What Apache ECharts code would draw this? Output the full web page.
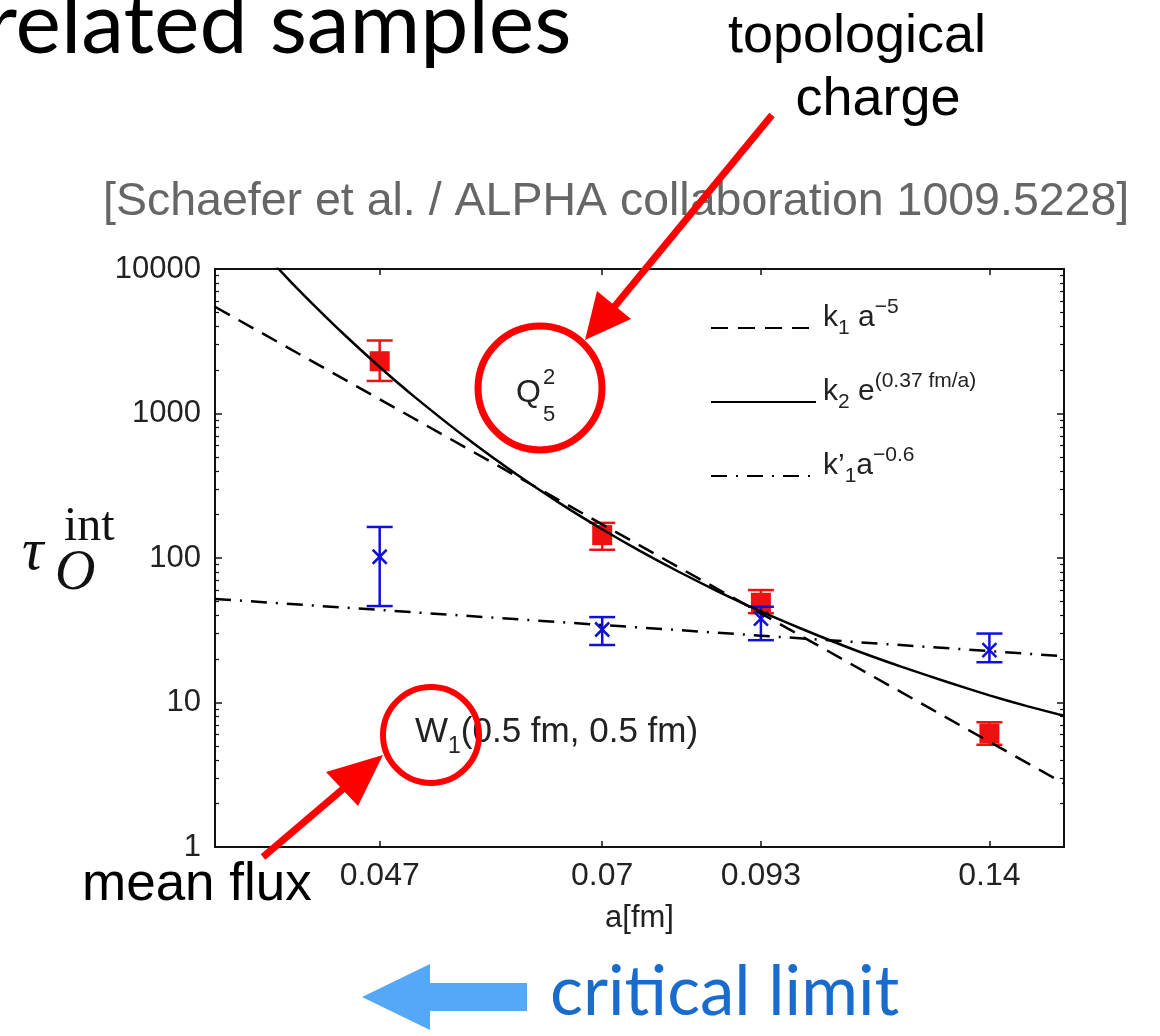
<!DOCTYPE html>
<html>
<head>
<meta charset="utf-8">
<title>tau int vs a</title>
<script src="https://cdn.jsdelivr.net/npm/echarts@6.0.0/dist/echarts.min.js"></script>
<style>
  html, body { margin: 0; padding: 0; background: #fff; }
  #chart { width: 1160px; height: 1036px; }
</style>
</head>
<body>
<div id="chart"></div>
<script>
// 格距 a[fm]，x 轴刻度
const aValues = [0.047, 0.07, 0.093, 0.14]
const xTicks = [0.047, 0.07, 0.093, 0.14]
// y 轴次刻度 (对数)
const yMinorTicks = [2, 3, 4, 5, 6, 7, 8, 9, 20, 30, 40, 50, 60, 70, 80, 90,
  200, 300, 400, 500, 600, 700, 800, 900, 2000, 3000, 4000, 5000, 6000, 7000, 8000, 9000]

// Q_5^2 拓扑荷 (红色方块)
const q5Value = [2300, 144, 49, 6.1]
const q5Low = [1680, 114, 41.5, 5.1]
const q5High = [3200, 175, 60, 7.3]

// W_1 平均通量 (蓝色叉)
const w1Value = [102, 32, 38, 23]
const w1Low = [46.5, 25, 27, 19]
const w1High = [164, 39, 46, 30]

// 拟合曲线，从图上读出的点
const k1A = [0.035, 0.047, 0.07, 0.093, 0.14, 0.16]
const k1Values = [5480, 1255, 171, 41.4, 5.35, 2.75]
const k2A = [0.038, 0.040, 0.042, 0.044, 0.047, 0.050, 0.055, 0.060, 0.065, 0.070,
  0.075, 0.080, 0.086, 0.093, 0.100, 0.110, 0.120, 0.130, 0.140, 0.150, 0.160]
const k2Values = [13540, 8324, 5366, 3593, 2099, 1309, 668, 381, 237, 158,
  111, 81.6, 59.1, 42.7, 32.4, 23.1, 17.5, 13.8, 11.2, 9.4, 8.1]
const k1pA = [0.035, 0.047, 0.07, 0.093, 0.14, 0.16]
const k1pValues = [52.1, 43.7, 34.4, 29.0, 22.7, 20.9]

const SANS = 'Liberation Sans'
const SERIF = 'Liberation Serif'
const AXIS_COLOR = '#111'
const CLEAR = 'rgba(0,0,0,0)'

const chart = echarts.init(document.getElementById('chart'))

// 误差棒 + 标记
function errorBars(color, mark) {
  return function (params, api) {
    const a = api.value(0)
    const mid = api.coord([a, api.value(1)])
    const lo = api.coord([a, api.value(2)])
    const hi = api.coord([a, api.value(3)])
    const cap = 13
    const line = (x1, y1, x2, y2) => ({
      type: 'line',
      shape: { x1, y1, x2, y2 },
      style: { stroke: color, lineWidth: 2.5 },
    })
    const children = [
      line(mid[0], lo[1], mid[0], hi[1]),
      line(mid[0] - cap, lo[1], mid[0] + cap, lo[1]),
      line(mid[0] - cap, hi[1], mid[0] + cap, hi[1]),
    ]
    if (mark === 'square') {
      children.push({
        type: 'rect',
        shape: { x: mid[0] - 10, y: mid[1] - 10, width: 20, height: 20 },
        style: { fill: color },
      })
    } else {
      children.push(line(mid[0] - 7, mid[1] - 7, mid[0] + 7, mid[1] + 7))
      children.push(line(mid[0] - 7, mid[1] + 7, mid[0] + 7, mid[1] - 7))
    }
    return { type: 'group', children }
  }
}

const legendText = {
  'k1 a^-5': '{m|k}{sub|1}{m| a}{sup|\u22125}',
  'k2 exp': '{m|k}{sub|2}{m| e}{sup|(0.37 fm/a)}',
  'k1p a^-0.6': '{m|k\u2019}{sub|1}{m|a}{sup|\u22120.6}',
}

const logX = {
  type: 'log',
  min: 0.035,
  max: 0.16,
  splitLine: { show: false },
  axisLine: { lineStyle: { color: AXIS_COLOR, width: 2 } },
  axisTick: { inside: true, length: 6, customValues: xTicks, lineStyle: { color: AXIS_COLOR, width: 1.5 } },
}
const logY = {
  type: 'log',
  min: 1,
  max: 10000,
  splitLine: { show: false },
  axisLine: { lineStyle: { color: AXIS_COLOR, width: 2 } },
  axisTick: { inside: true, length: 7, lineStyle: { color: AXIS_COLOR, width: 1.5 } },
}
const minorY = {
  type: 'log',
  min: 1,
  max: 10000,
  splitLine: { show: false },
  axisLine: { show: false },
  axisLabel: { show: false },
  axisTick: { inside: true, length: 4, customValues: yMinorTicks, lineStyle: { color: AXIS_COLOR, width: 1.2 } },
}

chart.setOption({
  animation: false,
  backgroundColor: '#fff',
  grid: { left: 215, top: 269, width: 849, height: 578, outerBoundsMode: 'none' },
  legend: {
    data: ['k1 a^-5', 'k2 exp', 'k1p a^-0.6'],
    orient: 'vertical',
    left: 705,
    top: 292,
    itemWidth: 105,
    itemHeight: 14,
    itemGap: 32,
    formatter: name => legendText[name],
    itemStyle: { color: CLEAR, borderColor: CLEAR, borderWidth: 0 },
    textStyle: {
      fontFamily: SANS,
      fontSize: 30,
      color: '#222',
      padding: [0, 0, 20, 2],
      rich: {
        m: { fontFamily: SANS, fontSize: 30, lineHeight: 42, color: '#222' },
        sub: { fontFamily: SANS, fontSize: 21, lineHeight: 20, verticalAlign: 'bottom', color: '#222' },
        sup: { fontFamily: SANS, fontSize: 21, lineHeight: 20, verticalAlign: 'top', color: '#222' },
      },
    },
  },
  xAxis: [
    {
      ...logX,
      position: 'bottom',
      name: 'a[fm]',
      nameLocation: 'middle',
      nameGap: 56,
      nameTextStyle: { fontFamily: SANS, fontSize: 31, color: '#222' },
      axisLabel: {
        customValues: xTicks,
        formatter: v => String(+(+v).toFixed(3)),
        margin: 13,
        fontFamily: SANS,
        fontSize: 32,
        color: '#222',
      },
    },
    { ...logX, position: 'top', axisLabel: { show: false } },
  ],
  yAxis: [
    {
      ...logY,
      position: 'left',
      axisLabel: {
        formatter: v => String(Math.round(v)),
        margin: 14,
        fontFamily: SANS,
        fontSize: 31,
        color: '#222',
      },
    },
    { ...logY, position: 'right', axisLabel: { show: false } },
    { ...minorY, position: 'left' },
    { ...minorY, position: 'right' },
  ],
  series: [
    {
      name: 'Q5^2',
      type: 'custom',
      renderItem: errorBars('#ee1111', 'square'),
      encode: { x: 0, y: [1, 2, 3] },
      data: aValues.map((a, i) => [a, q5Value[i], q5Low[i], q5High[i]]),
      z: 2,
    },
    {
      name: 'W1',
      type: 'custom',
      renderItem: errorBars('#1010d8', 'cross'),
      encode: { x: 0, y: [1, 2, 3] },
      data: aValues.map((a, i) => [a, w1Value[i], w1Low[i], w1High[i]]),
      z: 2,
    },
    {
      name: 'k1 a^-5',
      type: 'line',
      symbol: 'none',
      z: 3,
      lineStyle: { color: '#000', width: 2.5, type: [17, 10] },
      itemStyle: { color: CLEAR },
      data: k1A.map((a, i) => [a, k1Values[i]]),
    },
    {
      name: 'k2 exp',
      type: 'line',
      symbol: 'none',
      smooth: 0.2,
      z: 3,
      lineStyle: { color: '#000', width: 2.5 },
      itemStyle: { color: CLEAR },
      data: k2A.map((a, i) => [a, k2Values[i]]),
    },
    {
      name: 'k1p a^-0.6',
      type: 'line',
      symbol: 'none',
      z: 3,
      lineStyle: { color: '#000', width: 2.5, type: [16, 9, 2, 9] },
      itemStyle: { color: CLEAR },
      data: k1pA.map((a, i) => [a, k1pValues[i]]),
    },
  ],
  graphic: [
    // 幻灯片标题 (被裁切)
    { type: 'text', x: -14, y: 25, style: { text: 'related samples', fontFamily: 'Lato', fontSize: 86, fill: '#000', align: 'left', verticalAlign: 'middle' } },
    { type: 'text', x: 857, y: 37, style: { text: 'topological', fontFamily: SANS, fontSize: 54, fill: '#000', align: 'center', verticalAlign: 'middle' } },
    { type: 'text', x: 878, y: 100, style: { text: 'charge', fontFamily: SANS, fontSize: 54, fill: '#000', align: 'center', verticalAlign: 'middle' } },
    { type: 'text', x: 103, y: 202, style: { text: '[Schaefer et al. / ALPHA collaboration 1009.5228]', fontFamily: SANS, fontSize: 46.5, fill: '#666', align: 'left', verticalAlign: 'middle' } },
    { type: 'text', x: 82, y: 885, style: { text: 'mean flux', fontFamily: SANS, fontSize: 53, fill: '#000', align: 'left', verticalAlign: 'middle' } },
    { type: 'text', x: 550, y: 993, style: { text: 'critical limit', fontFamily: 'Lato', fontSize: 69, fill: '#1a6ccc', align: 'left', verticalAlign: 'middle' } },
    // y 轴标题 tau_O^int
    { type: 'text', x: 22, y: 553, style: { text: '\u03c4', fontFamily: SERIF, fontStyle: 'italic', fontSize: 60, fill: '#111', align: 'left', verticalAlign: 'middle' } },
    { type: 'text', x: 64, y: 527, style: { text: 'int', fontFamily: SERIF, fontSize: 48, fill: '#111', align: 'left', verticalAlign: 'middle' } },
    { type: 'text', x: 55, y: 574, style: { text: 'O', fontFamily: SERIF, fontStyle: 'italic', fontSize: 56, fill: '#111', align: 'left', verticalAlign: 'middle' } },
    // 图内标注
    { type: 'text', x: 516, y: 393, style: { text: 'Q', fontFamily: SANS, fontSize: 32, fill: '#222', align: 'left', verticalAlign: 'middle' } },
    { type: 'text', x: 543, y: 378, style: { text: '2', fontFamily: SANS, fontSize: 22, fill: '#222', align: 'left', verticalAlign: 'middle' } },
    { type: 'text', x: 543, y: 415, style: { text: '5', fontFamily: SANS, fontSize: 22, fill: '#222', align: 'left', verticalAlign: 'middle' } },
    {
      type: 'text', x: 415, y: 706,
      style: {
        text: 'W{sub|1}(0.5 fm, 0.5 fm)', fontFamily: SANS, fontSize: 35, lineHeight: 52, fill: '#222', align: 'left', verticalAlign: 'top',
        rich: { sub: { fontFamily: SANS, fontSize: 23, lineHeight: 22, verticalAlign: 'bottom', fill: '#222' } },
      },
    },
    // 红色圆圈与箭头
    { type: 'circle', z: 100, shape: { cx: 540, cy: 388, r: 62 }, style: { fill: 'none', stroke: '#ff0000', lineWidth: 7 } },
    { type: 'circle', z: 100, shape: { cx: 431, cy: 735, r: 48 }, style: { fill: 'none', stroke: '#ff0000', lineWidth: 6 } },
    { type: 'line', z: 100, shape: { x1: 772, y1: 115, x2: 610, y2: 312 }, style: { stroke: '#ff0000', lineWidth: 7 } },
    { type: 'polygon', z: 100, shape: { points: [[585, 340], [631, 319], [597, 291]] }, style: { fill: '#ff0000' } },
    { type: 'line', z: 100, shape: { x1: 263, y1: 857, x2: 350, y2: 783 }, style: { stroke: '#ff0000', lineWidth: 7 } },
    { type: 'polygon', z: 100, shape: { points: [[383, 755], [358, 806], [326, 772]] }, style: { fill: '#ff0000' } },
    // 蓝色箭头
    { type: 'polygon', z: 100, shape: { points: [[362, 997], [430, 964], [430, 983], [527, 983], [527, 1011], [430, 1011], [430, 1030]] }, style: { fill: '#55a8f6' } },
  ],
})
</script>
</body>
</html>
